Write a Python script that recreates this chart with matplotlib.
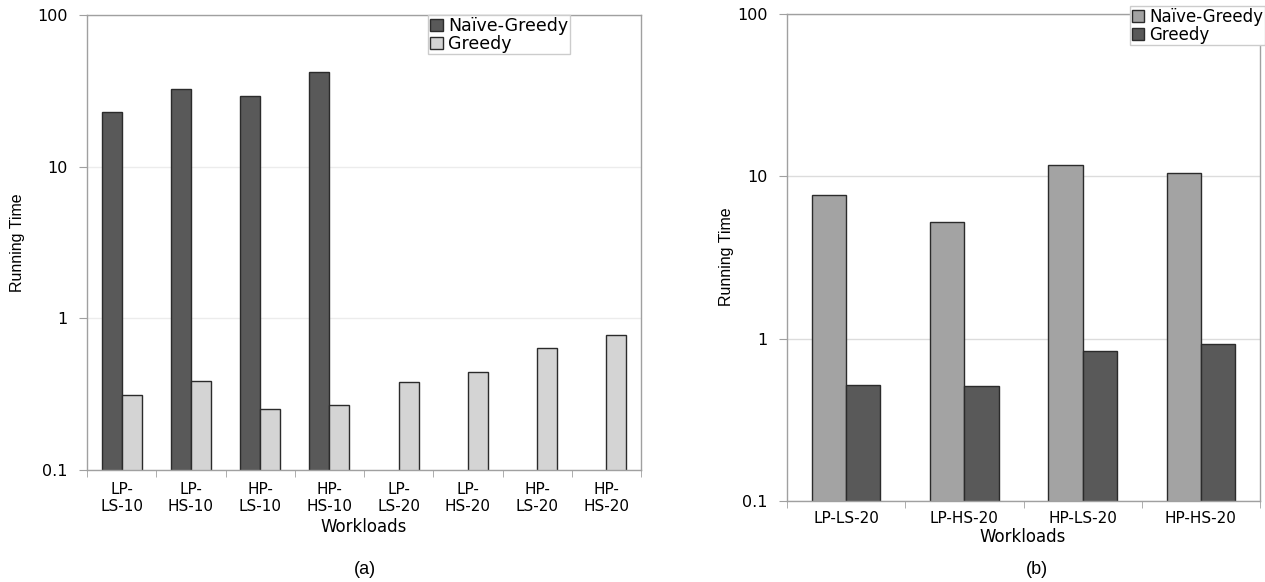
import matplotlib
matplotlib.use("Agg")
import matplotlib.pyplot as plt
import numpy as np

plt.rcParams['font.family'] = ['DejaVu Sans']

# dados do grafico (a)
cats_a = ["LP-\nLS-10", "LP-\nHS-10", "HP-\nLS-10", "HP-\nHS-10",
          "LP-\nLS-20", "LP-\nHS-20", "HP-\nLS-20", "HP-\nHS-20"]
naive_a = [22.9, 32.7, 29.4, 41.9, 0, 0, 0, 0]
greedy_a = [0.31, 0.386, 0.251, 0.27, 0.383, 0.445, 0.641, 0.78]

# dados do grafico (b)
cats_b = ["LP-LS-20", "LP-HS-20", "HP-LS-20", "HP-HS-20"]
naive_b = [7.7, 5.24, 11.75, 10.5]
greedy_b = [0.518, 0.513, 0.84, 0.93]

yticks = [0.1, 1, 10, 100]
ytick_labels = ["0.1", "1", "10", "100"]

W, H = 1265, 582
fig = plt.figure(figsize=(W / 100, H / 100), dpi=100)

spine_c = "#a0a0a0"
edge_c = "#2b2b2b"
narrow = ['Liberation Sans Narrow', 'Liberation Sans']


def px_axes(x0, y0, x1, y1):
    return fig.add_axes([x0 / W, 1 - y1 / H, (x1 - x0) / W, (y1 - y0) / H])


def style(ax, cats, grid_c, fs, pad):
    n = len(cats)
    ax.set_yscale("log")
    ax.set_ylim(0.1, 100)
    ax.set_xlim(-0.5, n - 0.5)
    ax.set_yticks(yticks)
    ax.set_yticklabels(ytick_labels, fontsize=11.5)
    ax.yaxis.set_minor_locator(matplotlib.ticker.NullLocator())
    ax.set_xticks(np.arange(n))
    ax.set_xticklabels(cats, fontsize=fs, linespacing=1.15)
    ax.set_xticks(np.arange(n + 1) - 0.5, minor=True)
    ax.tick_params(axis="x", which="major", length=0, pad=pad)
    ax.tick_params(axis="x", which="minor", length=5, color=spine_c, direction="out")
    ax.tick_params(axis="y", which="major", length=6, color=spine_c, pad=8)
    for s in ax.spines.values():
        s.set_color(spine_c)
        s.set_linewidth(1)
    ax.grid(axis="y", which="major", color=grid_c, linewidth=1)
    ax.set_axisbelow(True)


# ---- grafico (a)
ax1 = px_axes(87, 15, 641, 470)
x = np.arange(len(cats_a))
w = 0.289
ax1.bar(x - w / 2, naive_a, w, color="#595959", edgecolor=edge_c, linewidth=1, label="Naïve-Greedy")
ax1.bar(x + w / 2, greedy_a, w, color="#d4d4d4", edgecolor=edge_c, linewidth=1, label="Greedy")
style(ax1, cats_a, "#ececec", 11, 9)
ax1.legend(loc="upper left", bbox_to_anchor=(428 / W, 1 - 15 / H), bbox_transform=fig.transFigure,
           fontsize=12.5, fancybox=False, edgecolor="#cccccc", framealpha=1,
           handlelength=0.75, handleheight=0.7, handletextpad=0.3,
           labelspacing=0.0, borderpad=0.1, borderaxespad=0)

fig.text(364 / W, 1 - 527 / H, "Workloads", ha="center", va="center", fontsize=12)
fig.text(18 / W, 1 - 243 / H, "Running Time", rotation=90, ha="center", va="center",
         fontsize=11.5, family=narrow)
fig.text(365 / W, 1 - 570 / H, "(a)", ha="center", va="center", fontsize=13,
         family=narrow)

# ---- grafico (b)
ax2 = px_axes(787, 14, 1260, 501)
xb = np.arange(len(cats_b))
ax2.bar(xb - w / 2, naive_b, w, color="#a3a3a3", edgecolor=edge_c, linewidth=1, label="Naïve-Greedy")
ax2.bar(xb + w / 2, greedy_b, w, color="#595959", edgecolor=edge_c, linewidth=1, label="Greedy")
style(ax2, cats_b, "#dcdcdc", 11, 7)
ax2.legend(loc="upper left", bbox_to_anchor=(1130 / W, 1 - 6 / H), bbox_transform=fig.transFigure,
           fontsize=12, fancybox=False, edgecolor="#cccccc", framealpha=1,
           handlelength=0.75, handleheight=0.7, handletextpad=0.3,
           labelspacing=0.0, borderpad=0.1, borderaxespad=0)

fig.text(1023 / W, 1 - 537 / H, "Workloads", ha="center", va="center", fontsize=12)
fig.text(726 / W, 1 - 257 / H, "Running Time", rotation=90, ha="center", va="center",
         fontsize=11.5, family=narrow)
fig.text(1037 / W, 1 - 570 / H, "(b)", ha="center", va="center", fontsize=13,
         family=narrow)

fig.savefig("out.png", dpi=100)
